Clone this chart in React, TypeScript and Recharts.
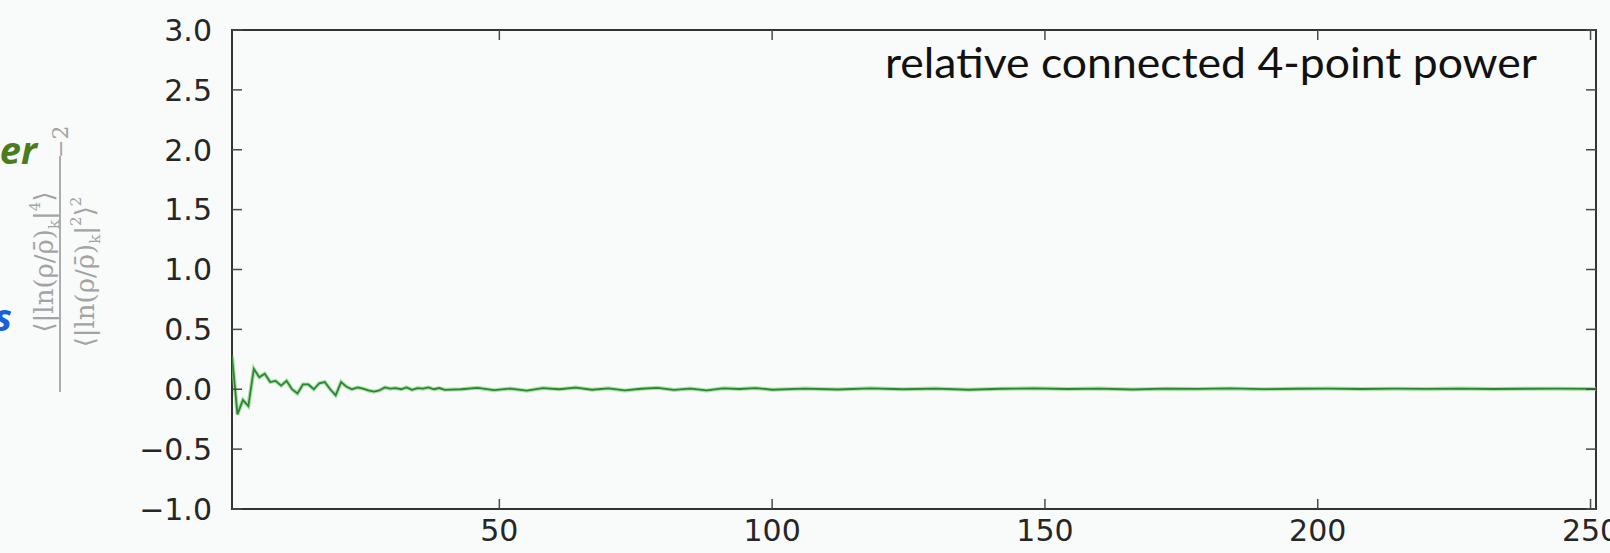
import { Line, LineChart, ReferenceArea, XAxis, YAxis } from "recharts";

// sample index along the x axis
const steps = [
  1, 2, 3, 4, 5, 6, 7, 8, 9, 10, 11, 12, 13, 14, 15, 16, 17, 18, 19, 20,
  21, 22, 23, 24, 25, 26, 27, 28, 29, 30, 31, 32, 33, 34, 35, 36, 37, 38, 39, 40,
  43, 46, 49, 52, 55, 58, 61, 64, 67, 70, 73, 76, 79, 82, 85, 88, 91, 94, 97, 100,
  106, 112, 118, 124, 130, 136, 142, 148, 154, 160, 166, 172, 178, 184, 190, 196,
  202, 208, 214, 220, 226, 232, 238, 244, 251,
];

// relative connected 4-point power
const power = [
  0.28, -0.21, -0.09, -0.14, 0.17, 0.1, 0.13, 0.06, 0.07, 0.03, 0.07, 0.0, -0.035, 0.04, 0.04, 0.0, 0.05, 0.06, 0.0, -0.05,
  0.06, 0.02, 0.0, 0.015, 0.005, -0.01, -0.02, -0.01, 0.015, 0.005, 0.01, 0.0, 0.015, -0.005, 0.01, 0.005, 0.015, 0.0, 0.01, -0.005,
  0.0, 0.012, -0.008, 0.006, -0.012, 0.01, 0.0, 0.014, -0.004, 0.008, -0.01, 0.004, 0.012, -0.006, 0.006, -0.01, 0.008, 0.002, 0.01, -0.004,
  0.006, -0.002, 0.008, 0.0, 0.006, -0.004, 0.004, 0.008, 0.002, 0.006, -0.002, 0.005, 0.003, 0.007, 0.001, 0.004,
  0.006, 0.002, 0.005, 0.003, 0.006, 0.002, 0.004, 0.005, 0.003,
];

const xTicks = [50, 100, 150, 200, 250];
const yTicks = [-1, -0.5, 0, 0.5, 1, 1.5, 2, 2.5, 3];
const xDomain = [1, 251];
const yDomain = [-1, 3];

const data = steps.map((k, i) => ({ k, v: power[i] }));

const frame = "#333333";
const tickStroke = { stroke: "#4a4a4a", strokeWidth: 1.5 };
const tickFont = { fontFamily: "DejaVu Sans", fontSize: 30, fill: "#262626" };

function fmt(v: number) {
  return (v < 0 ? "\u2212" : "") + Math.abs(v).toFixed(1);
}

function YTick({ x, y, payload }: any) {
  return (
    <text x={x} y={y} dy="0.36em" textAnchor="end" {...tickFont}>
      {fmt(payload.value)}
    </text>
  );
}

function XTick({ x, y, payload }: any) {
  return (
    <text x={x} y={y} dy="0.74em" textAnchor="middle" {...tickFont}>
      {payload.value}
    </text>
  );
}

function Empty() {
  return <g />;
}

// rotated y label: <|ln(rho/rhobar)_k|^4> / <|ln(rho/rhobar)_k|^2>^2 - 2
function Formula() {
  const f = { fontFamily: "DejaVu Serif", fontSize: 26, fill: "#a3a3a3" };
  const small = { fontSize: 15 };
  return (
    <g transform="translate(60 272) rotate(-90)">
      <text x={10} y={-7} textAnchor="middle" {...f}>
        ⟨|ln(ρ/ρ̄)<tspan dy={6} {...small}>k</tspan>
        <tspan dy={-6}>|</tspan>
        <tspan dy={-13} {...small}>4</tspan>
        <tspan dy={13}>⟩</tspan>
      </text>
      <line x1={-120} x2={116} y1={0} y2={0} stroke="#a3a3a3" strokeWidth={1.8} />
      <text x={0} y={34} textAnchor="middle" {...f}>
        ⟨|ln(ρ/ρ̄)<tspan dy={6} {...small}>k</tspan>
        <tspan dy={-6}>|</tspan>
        <tspan dy={-13} {...small}>2</tspan>
        <tspan dy={13}>⟩</tspan>
        <tspan dy={-13} {...small}>2</tspan>
      </text>
      <text x={114} y={8} {...f} fontSize={22}>
        −2
      </text>
    </g>
  );
}

export default function App() {
  return (
    <div
      style={{
        position: "absolute",
        left: 0,
        top: 0,
        width: 1610,
        height: 553,
        background: "#f8fbfa",
        overflow: "hidden",
      }}
    >
      <LineChart width={1610} height={553} data={data} margin={{ top: 30, right: 14, bottom: 0, left: 0 }}>
        {/* labelled axes, outside the frame */}
        <XAxis
          xAxisId="b"
          dataKey="k"
          type="number"
          domain={xDomain}
          ticks={xTicks}
          allowDataOverflow
          height={44}
          tickSize={0}
          tickMargin={10}
          tick={<XTick />}
          axisLine={false}
          tickLine={false}
        />
        <YAxis
          yAxisId="l"
          type="number"
          domain={yDomain}
          ticks={yTicks}
          allowDataOverflow
          width={232}
          tickSize={0}
          tickMargin={20}
          tick={<YTick />}
          axisLine={false}
          tickLine={false}
        />
        {/* inward tick marks on all four sides */}
        <XAxis
          xAxisId="bm"
          mirror
          dataKey="k"
          type="number"
          domain={xDomain}
          ticks={xTicks}
          allowDataOverflow
          height={10}
          tickSize={10}
          tick={<Empty />}
          axisLine={false}
          tickLine={tickStroke}
        />
        <XAxis
          xAxisId="tm"
          orientation="top"
          mirror
          dataKey="k"
          type="number"
          domain={xDomain}
          ticks={xTicks}
          allowDataOverflow
          height={10}
          tickSize={10}
          tick={<Empty />}
          axisLine={false}
          tickLine={tickStroke}
        />
        <YAxis
          yAxisId="lm"
          mirror
          type="number"
          domain={yDomain}
          ticks={yTicks}
          allowDataOverflow
          width={10}
          tickSize={10}
          tick={<Empty />}
          axisLine={false}
          tickLine={tickStroke}
        />
        <YAxis
          yAxisId="rm"
          orientation="right"
          mirror
          type="number"
          domain={yDomain}
          ticks={yTicks}
          allowDataOverflow
          width={10}
          tickSize={10}
          tick={<Empty />}
          axisLine={false}
          tickLine={tickStroke}
        />
        <Line
          xAxisId="b"
          yAxisId="l"
          dataKey="v"
          type="linear"
          stroke="#8fd18f"
          strokeOpacity={0.7}
          strokeWidth={4}
          dot={false}
          activeDot={false}
          isAnimationActive={false}
        />
        <Line
          xAxisId="b"
          yAxisId="l"
          dataKey="v"
          type="linear"
          stroke="#2b872e"
          strokeWidth={1.8}
          dot={false}
          activeDot={false}
          isAnimationActive={false}
        />
        {/* plot frame */}
        <ReferenceArea
          xAxisId="b"
          yAxisId="l"
          x1={xDomain[0]}
          x2={xDomain[1]}
          y1={yDomain[0]}
          y2={yDomain[1]}
          fill="none"
          stroke={frame}
          strokeWidth={2}
          ifOverflow="visible"
        />
      </LineChart>
      <svg
        width={1610}
        height={553}
        style={{ position: "absolute", left: 0, top: 0, pointerEvents: "none" }}
      >
        <text
          x={885}
          y={78}
          fontFamily="Lato"
          fontSize={42}
          fill="#111"
          textLength={652}
          lengthAdjust="spacingAndGlyphs"
        >
          relative connected 4-point power
        </text>
        <text x={37} y={164} textAnchor="end" fontFamily="Open Sans" fontWeight={700} fontStyle="italic" fontSize={38} fill="#4b7d1f">
          er
        </text>
        <text x={12} y={331} textAnchor="end" fontFamily="Open Sans" fontWeight={700} fontStyle="italic" fontSize={38} fill="#1b5fd6">
          s
        </text>
        <Formula />
      </svg>
    </div>
  );
}
